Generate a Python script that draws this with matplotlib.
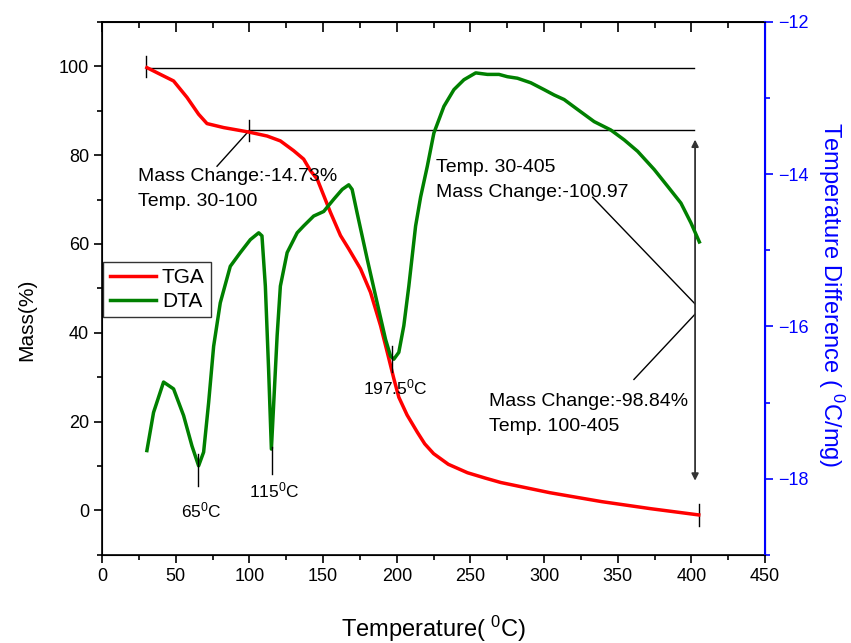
import matplotlib
matplotlib.use('Agg')
import matplotlib.pyplot as plt
from matplotlib.ticker import MultipleLocator

plt.rcParams['font.family'] = ['Liberation Sans', 'DejaVu Sans']
plt.rcParams['mathtext.fontset'] = 'custom'
plt.rcParams['mathtext.rm'] = 'Liberation Sans'
plt.rcParams['mathtext.it'] = 'Liberation Sans'

# TGA: mass (%) vs temperature (C)
tga_temp = [30.4, 39.4, 48.5, 57.6, 65.5, 71.2, 82.5, 99.5, 112, 121, 130, 136.8,
            141.4, 146, 155, 161.8, 167.4, 175.4, 182.2, 189, 193.5, 198, 201.4,
            207, 214, 219, 225, 235, 248, 260, 270.6, 304, 339, 372.5, 405]
tga_mass = [99.7, 98.2, 96.7, 93.0, 89.2, 87.1, 86.2, 85.2, 84.3, 83.2, 81.0, 79.1,
            76.5, 74.6, 67.1, 61.9, 58.9, 54.4, 49.1, 41.6, 35.7, 29.7, 25.5,
            21.5, 17.6, 15.0, 12.8, 10.4, 8.5, 7.3, 6.3, 4.0, 2.0, 0.4, -1.0]

# DTA: temperature difference (C/mg) vs temperature (C)
dta_temp = [30.4, 34.9, 41.7, 48.5, 55.3, 61, 65.5, 68.9, 72.3, 75.7, 80.2, 87,
            93.8, 100.6, 106.3, 108.5, 110.8, 113, 114.9, 116.5, 118.8, 121, 125.6,
            132.4, 136.8, 143.6, 150.4, 157.2, 163, 167.4, 169.7, 173.1, 180,
            186.7, 192.4, 195.8, 198, 201.4, 204.8, 208.2, 212.8, 216.2, 220.7,
            225.2, 232, 238.8, 245.6, 253.6, 261.5, 269.4, 275.1, 281.9, 291, 300,
            306.8, 313.6, 322.7, 334, 345.3, 354.4, 363.5, 374.8, 383.9, 392.9,
            399.7, 405.4]
dta_val = [-17.63, -17.13, -16.73, -16.82, -17.17, -17.57, -17.83, -17.65, -17.0,
           -16.26, -15.69, -15.21, -15.03, -14.86, -14.77, -14.81, -15.47, -16.56,
           -17.61, -17.0, -16.12, -15.47, -15.03, -14.77, -14.68, -14.55, -14.49,
           -14.33, -14.2, -14.14, -14.2, -14.51, -15.12, -15.69, -16.17, -16.39,
           -16.43, -16.34, -15.99, -15.47, -14.68, -14.3, -13.9, -13.46, -13.11,
           -12.89, -12.76, -12.67, -12.69, -12.69, -12.72, -12.74, -12.80, -12.89,
           -12.96, -13.02, -13.15, -13.31, -13.42, -13.55, -13.70, -13.94, -14.16,
           -14.38, -14.64, -14.89]

peak_temps = [65, 115, 197]
peak_labels = ['65$^0$C', '115$^0$C', '197.5$^0$C']
peak_marks = [(-17.67, -18.1), (-17.58, -17.94), (-16.26, -16.6)]
peak_text_y = [-18.42, -18.16, -16.8]

fig = plt.figure(figsize=(8.51, 6.43), dpi=100)
ax = fig.add_axes([0.12, 0.137, 0.779, 0.829])
ax2 = ax.twinx()

l1, = ax.plot(tga_temp, tga_mass, color='red', lw=2.5, label='TGA', zorder=3)
l2, = ax2.plot(dta_temp, dta_val, color='green', lw=2.5, label='DTA')

ax.set_xlim(0, 450)
ax.set_ylim(-10, 110)
ax2.set_ylim(-19, -12)

ax.xaxis.set_major_locator(MultipleLocator(50))
ax.xaxis.set_minor_locator(MultipleLocator(25))
ax.yaxis.set_major_locator(MultipleLocator(20))
ax.yaxis.set_minor_locator(MultipleLocator(10))
ax2.yaxis.set_major_locator(MultipleLocator(2))
ax2.yaxis.set_minor_locator(MultipleLocator(1))

ax.tick_params(axis='both', which='major', labelsize=13, length=6, width=1.2, direction='out')
ax.tick_params(axis='both', which='minor', length=3.5, width=1.2, direction='out')

# top ticks point inward
top = ax.secondary_xaxis('top')
top.xaxis.set_major_locator(MultipleLocator(50))
top.xaxis.set_minor_locator(MultipleLocator(25))
top.tick_params(which='major', direction='in', length=7, width=1.2, labeltop=False)
top.tick_params(which='minor', direction='in', length=4, width=1.2)
top.spines['top'].set_linewidth(1.2)

ax2.tick_params(axis='y', which='both', colors='blue', labelsize=13, direction='out', width=1.2)
ax2.tick_params(axis='y', which='major', length=6)
ax2.tick_params(axis='y', which='minor', length=3.5)
ax2.spines['right'].set_color('blue')
for s in ['left', 'bottom', 'top']:
    ax.spines[s].set_linewidth(1.2)
ax2.spines['right'].set_linewidth(1.5)

ax.set_xlabel('Temperature( $^0$C)', fontsize=17, va='center')
ax.xaxis.set_label_coords(0.5, -0.138)
ax.set_ylabel('Mass(%)', fontsize=15, va='center')
ax.yaxis.set_label_coords(-0.114, 0.441)
ax2.set_ylabel('Temperature Difference ( $^0$C/mg)', fontsize=17, color='blue',
               rotation=270, va='center', ha='center')
ax2.yaxis.set_label_coords(1.1, 0.488)

# reference lines of mass change
ax.plot([30, 402], [99.6, 99.6], color='black', lw=1)
ax.plot([100, 402], [85.6, 85.6], color='black', lw=1)
ax.plot([30, 30], [97.5, 102.3], color='black', lw=1)
ax.plot([100, 100], [83.2, 88.0], color='black', lw=1)
ax.plot([405, 405], [-3.5, 1.5], color='black', lw=1)
ax.plot([100, 78], [85.6, 77.5], color='black', lw=1)
ax.annotate('', xy=(402.5, 83.5), xytext=(402.5, 6.7),
            arrowprops=dict(arrowstyle='<|-|>', color='#333333', lw=1.3,
                            mutation_scale=10, shrinkA=0, shrinkB=0))
ax.plot([333, 402.5], [70.5, 46.5], color='black', lw=1)
ax.plot([402.5, 361], [44.2, 29.5], color='black', lw=1)

ax.text(24.5, 77.2, 'Mass Change:-14.73%\nTemp. 30-100', fontsize=14,
        va='top', linespacing=1.62)
ax.text(226.4, 79.1, 'Temp. 30-405\nMass Change:-100.97', fontsize=14,
        va='top', linespacing=1.62)
ax.text(262.4, 26.5, 'Mass Change:-98.84%\nTemp. 100-405', fontsize=14,
        va='top', linespacing=1.62)

# DTA peak markers
for t, lab, (y0, y1), ty in zip(peak_temps, peak_labels, peak_marks, peak_text_y):
    ax2.plot([t, t], [y0, y1], color='black', lw=1)
    ax2.text(t + 2, ty, lab, fontsize=12.5, ha='center', va='center')

ax.legend(handles=[l1, l2], loc='upper left', bbox_to_anchor=(0.002, 0.55),
          borderaxespad=0, fontsize=15, frameon=True, fancybox=False,
          edgecolor='black', handlelength=2.2, handletextpad=0.3,
          borderpad=0.3, labelspacing=0.25)

fig.savefig('out.png', dpi=100)
